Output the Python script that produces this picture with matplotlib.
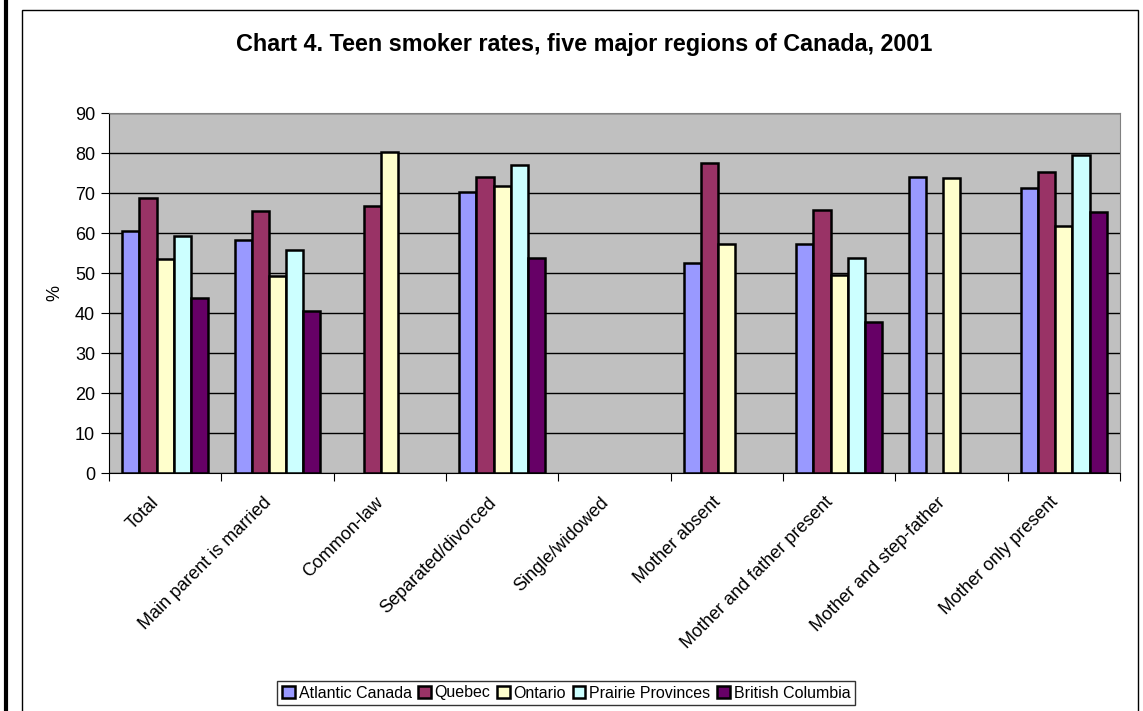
import matplotlib.pyplot as plt
import numpy as np
from matplotlib.lines import Line2D
from matplotlib.patches import Rectangle

plt.rcParams['font.family'] = ['Liberation Sans', 'DejaVu Sans']

categories = ['Total', 'Main parent is married', 'Common-law', 'Separated/divorced',
              'Single/widowed', 'Mother absent', 'Mother and father present',
              'Mother and step-father', 'Mother only present']
regions = ['Atlantic Canada', 'Quebec', 'Ontario', 'Prairie Provinces', 'British Columbia']
colors = ['#9999FF', '#993366', '#FFFFCC', '#CCFFFF', '#660066']

nan = np.nan
atlantic = [60.4, 58.2, nan, 70.3, nan, 52.4, 57.3, 74.0, 71.2]
quebec = [68.7, 65.6, 66.7, 73.9, nan, 77.4, 65.8, nan, 75.2]
ontario = [53.5, 49.3, 80.3, 71.7, nan, 57.2, 49.4, 73.8, 61.8]
prairie = [59.3, 55.8, nan, 76.9, nan, nan, 53.8, nan, 79.4]
bc = [43.8, 40.4, nan, 53.8, nan, nan, 37.8, nan, 65.3]
series = [atlantic, quebec, ontario, prairie, bc]

W, H = 1143, 711
fig = plt.figure(figsize=(W / 100, H / 100), dpi=100)

# frames around the chart
fig.add_artist(Rectangle((22 / W, -0.05), (1138 - 22) / W, (H - 10) / H + 0.05,
                         transform=fig.transFigure, fill=False, edgecolor='black', lw=1))
fig.add_artist(Line2D([5.5 / W, 5.5 / W], [0, 1], transform=fig.transFigure,
                      color='black', lw=3))

ax = fig.add_axes([109 / W, (H - 473) / H, (1120 - 109) / W, (473 - 113) / H])
ax.set_facecolor('#C0C0C0')

x = np.arange(len(categories)) + 0.5
bw = 0.153
for i, (vals, c, name) in enumerate(zip(series, colors, regions)):
    ax.bar(x + (i - 2) * bw, vals, width=bw, color=c, edgecolor='black',
           linewidth=1.8, label=name, zorder=3)

ax.set_xlim(0, len(categories))
ax.set_ylim(0, 90)
ax.set_yticks(np.arange(0, 91, 10))
ax.yaxis.grid(True, color='black', lw=1, zorder=1)
ax.set_xticks(np.arange(len(categories) + 1))
ax.set_xticklabels([])
# label anchors a bit left of the group centre, as Excel places rotated labels
ax.set_xticks(x - 0.13, minor=True)
ax.set_xticklabels(categories, minor=True, rotation=45, ha='right',
                   rotation_mode='anchor', fontsize=13)
ax.tick_params(axis='x', which='minor', length=0, pad=15)
ax.tick_params(axis='x', which='major', length=6, direction='out')
ax.tick_params(axis='y', length=6, direction='out', labelsize=13, pad=4)
for s in ['top', 'right']:
    ax.spines[s].set_color('#808080')
for s in ['left', 'bottom']:
    ax.spines[s].set_color('black')
ax.set_ylabel('%', fontsize=13, labelpad=8)

fig.text(584 / W, (H - 45) / H, 'Chart 4. Teen smoker rates, five major regions of Canada, 2001',
         ha='center', va='center', fontsize=16.8, fontweight='bold')

leg = fig.legend(loc='center', bbox_to_anchor=(566 / W, (H - 693) / H), ncol=5,
                 fontsize=11.5, frameon=True, fancybox=False, edgecolor='black',
                 handlelength=0.8, handleheight=0.8, handletextpad=0.25,
                 columnspacing=0.4, borderpad=0.3, borderaxespad=0)
leg.get_frame().set_linewidth(1)

fig.savefig('out.png', dpi=100)
